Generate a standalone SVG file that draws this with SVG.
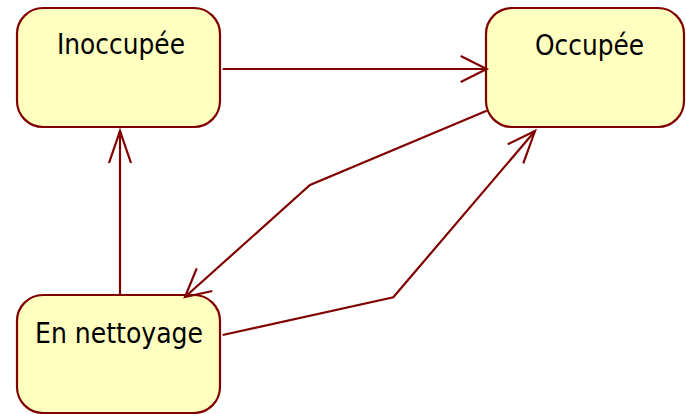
<svg xmlns="http://www.w3.org/2000/svg" width="686" height="414" viewBox="0 0 686 414">
<style>
.node rect{fill:#FFFFC0;stroke:#800000;stroke-width:2.2}
.node text{font-family:"DejaVu Sans Condensed","DejaVu Sans",sans-serif;font-size:29px;fill:#000}
.edges polyline{fill:none;stroke:#800000;stroke-width:2.2}
</style>
<rect width="686" height="414" fill="#fff"/>
<g id="inoccupee" class="node">
<rect x="17" y="8" width="203" height="119" rx="26" ry="26"/>
<text x="57" y="54" textLength="128" lengthAdjust="spacingAndGlyphs">Inoccupée</text>
</g>
<g id="occupee" class="node">
<rect x="486" y="8" width="198" height="119" rx="26" ry="26"/>
<text x="535" y="54.5" textLength="109" lengthAdjust="spacingAndGlyphs">Occupée</text>
</g>
<g id="en-nettoyage" class="node">
<rect x="17" y="295" width="203" height="118" rx="26" ry="26"/>
<text x="35" y="342.7" textLength="168" lengthAdjust="spacingAndGlyphs">En nettoyage</text>
</g>
<g id="connectors" class="edges">
<polyline points="222.7,69 486.7,69"/>
<polyline points="460.7,56 486.7,69 460.7,82"/>
<polyline points="486.7,110.7 310,185 185,297"/>
<polyline points="196.7,268.3 185,297 212.3,291"/>
<polyline points="222.7,335 393.3,297.3 535,131"/>
<polyline points="507.7,144.3 535,131 523.3,163.3"/>
<polyline points="120,296 120,131"/>
<polyline points="109,163 120,131 131,163"/>
</g>
</svg>
